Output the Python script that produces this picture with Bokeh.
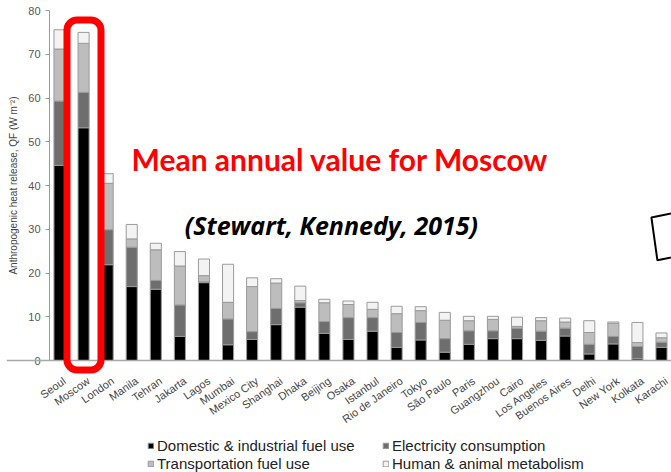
import math
from bokeh.plotting import figure
from bokeh.models import (ColumnDataSource, Range1d, FixedTicker, Legend, LegendItem,
                          BoxAnnotation, Label, PolyAnnotation, Span)
from bokeh.core.properties import value
from bokeh.embed import file_html
from bokeh.resources import INLINE

cities = ["Seoul", "Moscow", "London", "Manila", "Tehran", "Jakarta", "Lagos", "Mumbai",
          "Mexico City", "Shanghai", "Dhaka", "Beijing", "Osaka", "Istanbul", "Rio de Janeiro",
          "Tokyo", "São Paulo", "Paris", "Guangzhou", "Cairo", "Los Angeles", "Buenos Aires",
          "Delhi", "New York", "Kolkata", "Karachi"]
fuel = [44.6, 53.2, 21.9, 16.9, 16.3, 5.5, 17.8, 3.6, 4.8, 8.2, 12.2, 6.2, 4.8, 6.7, 3.0,
        4.7, 1.9, 3.7, 5.0, 5.0, 4.6, 5.6, 1.5, 3.8, 0.4, 3.0]
electricity = [14.7, 8.1, 8.0, 9.0, 2.0, 7.2, 0.2, 5.9, 1.8, 3.7, 1.0, 2.7, 5.0, 3.1, 3.4,
               4.0, 3.1, 3.1, 1.8, 2.4, 2.1, 1.8, 2.2, 1.7, 2.8, 1.2]
transport = [11.9, 11.2, 10.6, 1.9, 7.0, 8.9, 1.4, 3.8, 10.3, 5.8, 0.5, 4.3, 3.0, 1.9, 4.3,
             2.7, 4.2, 2.3, 2.6, 0.4, 2.4, 1.4, 2.7, 3.0, 0.9, 1.0]
metabolism = [4.4, 2.5, 2.2, 3.3, 1.5, 3.3, 3.8, 8.7, 2.0, 1.0, 3.3, 0.8, 0.8, 1.6, 1.7,
              0.9, 1.8, 1.0, 0.7, 2.1, 0.7, 0.9, 2.7, 0.3, 4.6, 1.1]
series_names = ["Domestic & industrial fuel use", "Electricity consumption",
                "Transportation fuel use", "Human & animal metabolism"]
y_ticks = [0, 10, 20, 30, 40, 50, 60, 70, 80]
y_tick_labels = ["0", "10", "20", "30", "40", "50", "60", "70", "80"]
y_title = "Anthropogenic heat release, QF (W m\u207b\u00b2)"

colors = ["#000000", "#6e6e6e", "#bdbdbd", "#f3f3f3"]
keys = ["fuel", "elec", "trans", "meta"]
AXIS_X = -0.415  # category-axis position of the value axis (left of first bar)

src = ColumnDataSource(dict(x=list(range(len(cities))), city=cities, fuel=fuel,
                            elec=electricity, trans=transport, meta=metabolism))

p = figure(width=671, height=472, output_backend="svg", toolbar_location=None,
           x_range=Range1d(-2.2007, 25.415), y_range=Range1d(-25.6, 82.29),
           min_border_left=6, min_border_right=0, min_border_top=0, min_border_bottom=0)
p.outline_line_color = None
p.xgrid.visible = False
p.ygrid.visible = False
p.xaxis.visible = False

rs = p.vbar_stack(keys, x="x", width=0.46, color=colors, line_color="#9a9a9a",
                  line_width=1, source=src)

# baseline (category axis line)
p.add_layout(Span(location=0, dimension="width", line_color="#a8a8a8", line_width=1.5))

# category labels, rotated
p.text(x="x", y=0, text="city", source=src, angle=0.61, text_align="right",
       text_baseline="middle", x_offset=5, y_offset=19,
       text_font=value("Liberation Sans"), text_font_size=value("11px"),
       text_color="#444444")

# value axis (line + ticks), placed at the left of the first bar
p.yaxis.fixed_location = AXIS_X
p.yaxis.bounds = (0, 80)
p.yaxis.ticker = FixedTicker(ticks=y_ticks)
p.yaxis.major_label_overrides = {t: "" for t in y_ticks}
p.yaxis.minor_tick_line_color = None
p.yaxis.major_tick_out = 4
p.yaxis.major_tick_in = 0
p.yaxis.major_label_standoff = 0
p.yaxis.axis_line_color = "#9a9a9a"
p.yaxis.major_tick_line_color = "#9a9a9a"

tick_src = ColumnDataSource(dict(x=[AXIS_X] * len(y_ticks), y=y_ticks, t=y_tick_labels))
p.text(x="x", y="y", text="t", source=tick_src, text_align="right",
       text_baseline="middle", x_offset=-9, text_font=value("Liberation Sans"),
       text_font_size=value("11px"), text_color="#555555")
p.text(x=[AXIS_X], y=[40], text=[y_title], angle=math.pi / 2, text_align="center",
       text_baseline="middle", x_offset=-36, text_font=value("Liberation Sans"),
       text_font_size=value("10px"), text_color="#444444")

# legends (two columns)
leg_kw = dict(label_text_font="Liberation Sans", label_text_font_size="15px",
              label_text_color="#222222", glyph_width=7, glyph_height=7,
              label_height=18, spacing=0, padding=0, margin=0, label_standoff=3,
              border_line_color=None, background_fill_alpha=0)
leg1 = Legend(items=[LegendItem(label=series_names[0], renderers=[rs[0]]),
                     LegendItem(label=series_names[2], renderers=[rs[2]])],
              location=(141, 0), **leg_kw)
leg2 = Legend(items=[LegendItem(label=series_names[1], renderers=[rs[1]]),
                     LegendItem(label=series_names[3], renderers=[rs[3]])],
              location=(376, 0), **leg_kw)
p.add_layout(leg1)
p.add_layout(leg2)

# annotations
p.add_layout(BoxAnnotation(left=0.311, right=1.723, top=77.83, bottom=-2.17,
                           fill_alpha=0, line_color="#ff0000", line_alpha=1.0,
                           line_width=7, border_radius=10))
p.add_layout(Label(x=2.99, y=46.17, text="Mean annual value for Moscow",
                   text_font="Lato", text_font_style="bold", text_font_size="30px",
                   text_color="#ff0000", text_baseline="alphabetic"))
p.add_layout(Label(x=5.2, y=30.86, text="(Stewart, Kennedy, 2015)",
                   text_font="Open Sans", text_font_style="bold italic",
                   text_font_size="25px", text_color="#000000",
                   text_baseline="alphabetic"))
p.add_layout(PolyAnnotation(xs=[24.58, 24.83, 26.2, 26.2], ys=[32.7, 22.9, 24.5, 34.5],
                            fill_alpha=0, line_color="#000000", line_alpha=1.0,
                            line_width=2))

open("out.html", "w").write(file_html(p, INLINE))
